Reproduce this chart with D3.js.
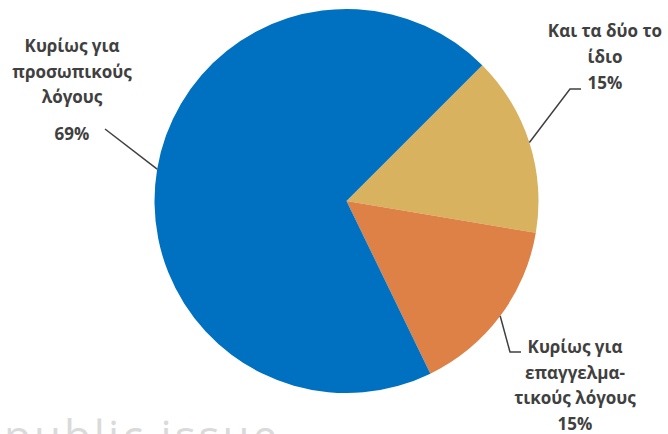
<!DOCTYPE html>
<html>
<head>
<meta charset="utf-8">
<script src="https://cdn.jsdelivr.net/npm/d3@7"></script>
<style>
  html, body { margin: 0; padding: 0; background: #fff; }
  svg { display: block; }
  .lbl { font-family: "Open Sans", "Noto Sans", sans-serif; font-weight: bold; fill: #404040; font-size: 17px; }
</style>
</head>
<body>
<svg id="chart" width="668" height="434"></svg>
<script>
const categories = ["Και τα δύο το ίδιο", "Κυρίως για επαγγελματικούς λόγους", "Κυρίως για προσωπικούς λόγους"];
const values = [15, 15, 69];
const percentLabels = ["15%", "15%", "69%"];
const colors = ["#D9B25F", "#DE8146", "#0070C0"];
const labelLines = [
  ["Και τα δύο το", "ίδιο", "15%"],
  ["Κυρίως για", "επαγγελμα-", "τικούς λόγους", "15%"],
  ["Κυρίως για", "προσωπικούς", "λόγους", "69%"]
];

const W = 668, H = 434;
const cx = 346.5, cy = 201, R = 192;
const svg = d3.select("#chart");

// watermark (cut off at bottom, as in the reference)
svg.append("text")
  .attr("x", 4).attr("y", 452)
  .attr("font-family", "Open Sans, sans-serif")
  .attr("font-size", 44)
  .attr("letter-spacing", 3)
  .attr("fill", "#dadada")
  .text("public issue");

const pie = d3.pie().sort(null).value(d => d)
  .startAngle(Math.PI / 4).endAngle(Math.PI / 4 + 2 * Math.PI);
const arcs = pie(values);
const arc = d3.arc().innerRadius(0).outerRadius(R);

const g = svg.append("g").attr("transform", `translate(${cx},${cy})`);
g.selectAll("path.slice").data(arcs).enter().append("path")
  .attr("class", "slice")
  .attr("d", arc)
  .attr("fill", (d, i) => colors[i]);

const labelPos = [
  { x: 605, ys: [37, 63, 89], lineEnd: [[570, 89], [581, 89]] },
  { x: 575, ys: [353, 379, 404, 430], lineEnd: [[510, 352], [521, 352]] },
  { x: 72, ys: [52, 78, 103, 140], lineEnd: [[105, 129]] }
];

arcs.forEach((a, i) => {
  const mid = (a.startAngle + a.endAngle) / 2;
  const px = cx + R * Math.sin(mid), py = cy - R * Math.cos(mid);
  const pts = [[px, py]].concat(labelPos[i].lineEnd);
  svg.append("path")
    .attr("d", d3.line()(pts))
    .attr("fill", "none")
    .attr("stroke", "#404040")
    .attr("stroke-width", 1.5);
  const t = svg.append("text").attr("class", "lbl").attr("text-anchor", "middle");
  labelLines[i].forEach((s, j) => {
    t.append("tspan").attr("x", labelPos[i].x).attr("y", labelPos[i].ys[j]).text(s);
  });
});
</script>
</body>
</html>
